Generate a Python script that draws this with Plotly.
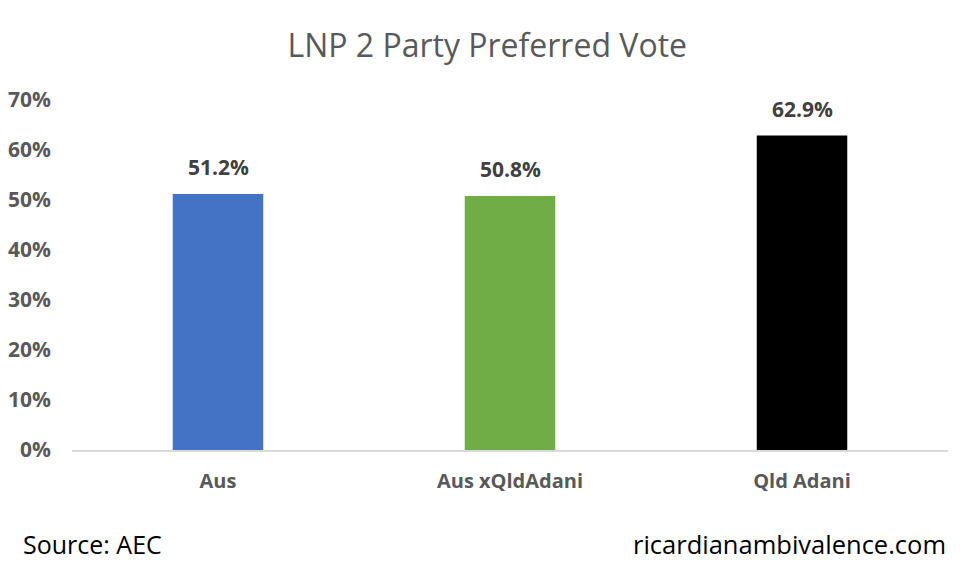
import plotly.graph_objects as go

categories = ["Aus", "Aus xQldAdani", "Qld Adani"]
values = [51.2, 50.8, 62.9]
colors = ["#4472C4", "#70AD47", "#000000"]
tick_vals = [0, 10, 20, 30, 40, 50, 60, 70]
tick_text = [f"{v}%" for v in tick_vals]

FONT = "Open Sans, sans-serif"

fig = go.Figure()
fig.add_trace(go.Bar(
    x=categories, y=values, marker=dict(color=colors, line=dict(width=0)),
    width=0.31, hoverinfo="skip",
))
for c, v in zip(categories, values):
    fig.add_annotation(x=c, y=v, text=f"<b>{v:.1f}%</b>", showarrow=False,
                       yshift=27, font=dict(family=FONT, size=21, color="#404040"))

fig.add_annotation(xref="paper", yref="paper", x=-0.058, y=-0.323, xanchor="left",
                   text="Source: AEC", showarrow=False,
                   font=dict(family=FONT, size=25, color="#000000"))
fig.add_annotation(xref="paper", yref="paper", x=1.0, y=-0.323, xanchor="right",
                   text="ricardianambivalence.com", showarrow=False,
                   font=dict(family=FONT, size=25.5, color="#000000"))

fig.update_layout(
    width=978, height=576,
    paper_bgcolor="white", plot_bgcolor="white",
    margin=dict(l=64, r=38, t=92, b=134),
    title=dict(text="LNP 2 Party Preferred Vote", x=0.49, xanchor="center",
               y=0.935, yanchor="middle",
               font=dict(family=FONT, size=32, color="#595959")),
    showlegend=False,
    bargap=0.69,
)
fig.update_yaxes(range=[0, 70], tickvals=tick_vals, ticktext=[f"<b>{t}</b>" for t in tick_text],
                 showgrid=False, zeroline=False, showline=False, ticks="",
                 ticklabelstandoff=20, automargin=False,
                 tickfont=dict(family=FONT, size=21, color="#595959"))
fig.update_xaxes(showgrid=False, showline=True, linecolor="#D9D9D9", linewidth=2,
                 ticks="", ticklabelstandoff=12, automargin=False,
                 tickvals=categories, ticktext=[f"<b>{c}</b>" for c in categories],
                 tickfont=dict(family=FONT, size=20, color="#595959"))

fig.write_html("out.html")
